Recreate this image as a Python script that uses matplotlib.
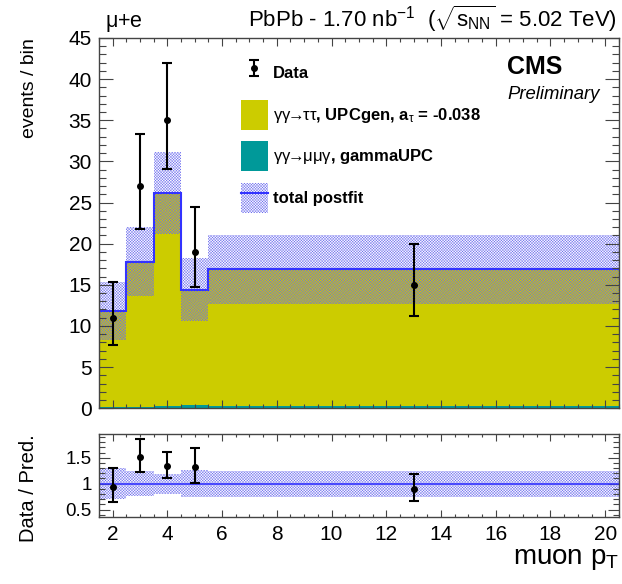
import matplotlib
matplotlib.use("Agg")
import matplotlib.pyplot as plt
import numpy as np
from matplotlib.lines import Line2D
from matplotlib.patches import Patch
from matplotlib.ticker import MultipleLocator

plt.rcParams["font.family"] = ["Liberation Sans", "DejaVu Sans"]
plt.rcParams["mathtext.fontset"] = "custom"
plt.rcParams["mathtext.rm"] = "Liberation Sans"
plt.rcParams["mathtext.it"] = "Liberation Sans:italic"
plt.rcParams["mathtext.bf"] = "Liberation Sans:bold"
plt.rcParams["hatch.linewidth"] = 0.3

# binning in muon pT
bin_edges = [1.5, 2.5, 3.5, 4.5, 5.5, 20.5]
bin_centers = [2, 3, 4, 5, 13]

# postfit templates (events / bin)
mumugamma = [0.1, 0.1, 0.25, 0.45, 0.25]
tautau = [11.7, 17.7, 25.95, 13.95, 16.65]
total_unc = [3.5, 4.2, 5.0, 3.8, 4.2]

# observed events with asymmetric poisson errors
data = [11, 27, 35, 19, 15]
data_err_lo = [3.3, 5.2, 5.9, 4.3, 3.8]
data_err_hi = [4.4, 6.3, 7.0, 5.4, 4.9]

YELLOW = "#cccc00"
TEAL = "#009999"
BLUE = "#3333ff"
HATCH = "#6a6aee"
HATCH_PATTERN = "x" * 12
FRAME = "#444444"

edges = np.array(bin_edges)
widths = np.diff(edges)
total = np.array(tautau) + np.array(mumugamma)
unc = np.array(total_unc)

fig = plt.figure(figsize=(6.22, 5.84), dpi=100)
ax = fig.add_axes([0.159, 0.301, 0.836, 0.634])
rax = fig.add_axes([0.159, 0.115, 0.836, 0.142])

# stacked templates
ax.bar(edges[:-1], mumugamma, width=widths, align="edge", color=TEAL, linewidth=0)
ax.bar(edges[:-1], tautau, width=widths, bottom=mumugamma, align="edge",
       color=YELLOW, linewidth=0)
ax.bar(edges[:-1], 2 * unc, width=widths, bottom=total - unc, align="edge",
       facecolor="none", edgecolor=HATCH, hatch=HATCH_PATTERN, linewidth=0)
ax.stairs(total, edges, color=BLUE, linewidth=1.5, baseline=None)
err_style = dict(fmt="o", color="black", markersize=4, elinewidth=1.5,
                 capsize=3.5, capthick=1.5)
data_handle = ax.errorbar(bin_centers, data, yerr=[data_err_lo, data_err_hi],
                          **err_style)

# ratio panel
ratio = np.array(data) / total
ratio_lo = np.array(data_err_lo) / total
ratio_hi = np.array(data_err_hi) / total
rel_unc = unc / total
rax.bar(edges[:-1], 2 * rel_unc, width=widths, bottom=1 - rel_unc, align="edge",
        facecolor="none", edgecolor=HATCH, hatch=HATCH_PATTERN, linewidth=0)
rax.axhline(1.0, color=BLUE, linewidth=1.2)
rax.errorbar(bin_centers, ratio, yerr=[ratio_lo, ratio_hi], **err_style)

for a in (ax, rax):
    a.set_xlim(1.5, 20.5)
    a.xaxis.set_major_locator(MultipleLocator(2))
    a.xaxis.set_minor_locator(MultipleLocator(0.5))
    for s in a.spines.values():
        s.set_color(FRAME)
        s.set_linewidth(1.0)
    a.tick_params(which="both", direction="in", top=True, right=True,
                  colors=FRAME, labelcolor="black", width=0.8)

ax.set_ylim(0, 45)
ax.yaxis.set_major_locator(MultipleLocator(5))
ax.yaxis.set_minor_locator(MultipleLocator(1))
ax.tick_params(axis="y", which="major", length=10, pad=5, labelsize=15)
ax.tick_params(axis="y", which="minor", length=5)
ax.tick_params(axis="x", which="major", length=6, labelbottom=False)
ax.tick_params(axis="x", which="minor", length=3)
ax.set_ylabel("events / bin", fontsize=14, loc="top")
ax.yaxis.set_label_coords(-0.118, 1.0)

rax.set_ylim(0.36, 1.96)
rax.set_yticks([0.5, 1.0, 1.5])
rax.set_yticklabels(["0.5", "1", "1.5"])
rax.yaxis.set_minor_locator(MultipleLocator(0.1))
rax.tick_params(axis="y", which="major", length=8, pad=5, labelsize=13.5)
rax.tick_params(axis="y", which="minor", length=4)
rax.tick_params(axis="x", which="major", length=5, pad=6, labelsize=15)
rax.tick_params(axis="x", which="minor", length=2.5)
rax.set_ylabel("Data / Pred.", fontsize=14.5, loc="top")
rax.yaxis.set_label_coords(-0.118, 1.0)
rax.set_xlabel("muon p$_{\\mathrm{T}}$", fontsize=20, loc="right")
rax.xaxis.set_label_coords(1.0, -0.35)

# legend
handles = [
    data_handle,
    Patch(facecolor=YELLOW, edgecolor="none"),
    Patch(facecolor=TEAL, edgecolor="none"),
    (Patch(facecolor="none", edgecolor=HATCH, hatch=HATCH_PATTERN, linewidth=0),
     Line2D([], [], color=BLUE, linewidth=1.5)),
]
labels = [
    "Data",
    "$\\mathrm{\\gamma\\gamma\\!\\!\\rightarrow\\!\\!\\tau\\tau}$, UPCgen, "
    "a$_{\\mathrm{\\tau}}$ = -0.038",
    "$\\mathrm{\\gamma\\gamma\\!\\!\\rightarrow\\!\\!\\mu\\mu\\gamma}$, gammaUPC",
    "total postfit",
]
ax.legend(handles, labels, loc="upper left", bbox_to_anchor=(0.273, 0.946),
          frameon=False, borderpad=0, borderaxespad=0,
          prop={"weight": "bold", "size": 12}, handlelength=1.62,
          handleheight=2.4, labelspacing=0.69, handletextpad=0.3)

# header and CMS label
fig.text(0.169, 0.954, "$\\mathrm{\\mu}$+e", fontsize=15.5, ha="left",
         va="baseline")
fig.text(0.992, 0.954,
         "PbPb - 1.70 nb$^{-1}$  ($\\sqrt{\\mathrm{s}_{\\mathrm{NN}}}$ = 5.02 TeV)",
         fontsize=16, ha="right", va="baseline")
ax.text(0.785, 0.903, "CMS", transform=ax.transAxes, fontsize=18,
        fontweight="bold", ha="left", va="baseline")
ax.text(0.785, 0.835, "Preliminary", transform=ax.transAxes, fontsize=13.3,
        fontstyle="italic", ha="left", va="baseline")

fig.savefig("out.png", dpi=100)
plt.close(fig)
